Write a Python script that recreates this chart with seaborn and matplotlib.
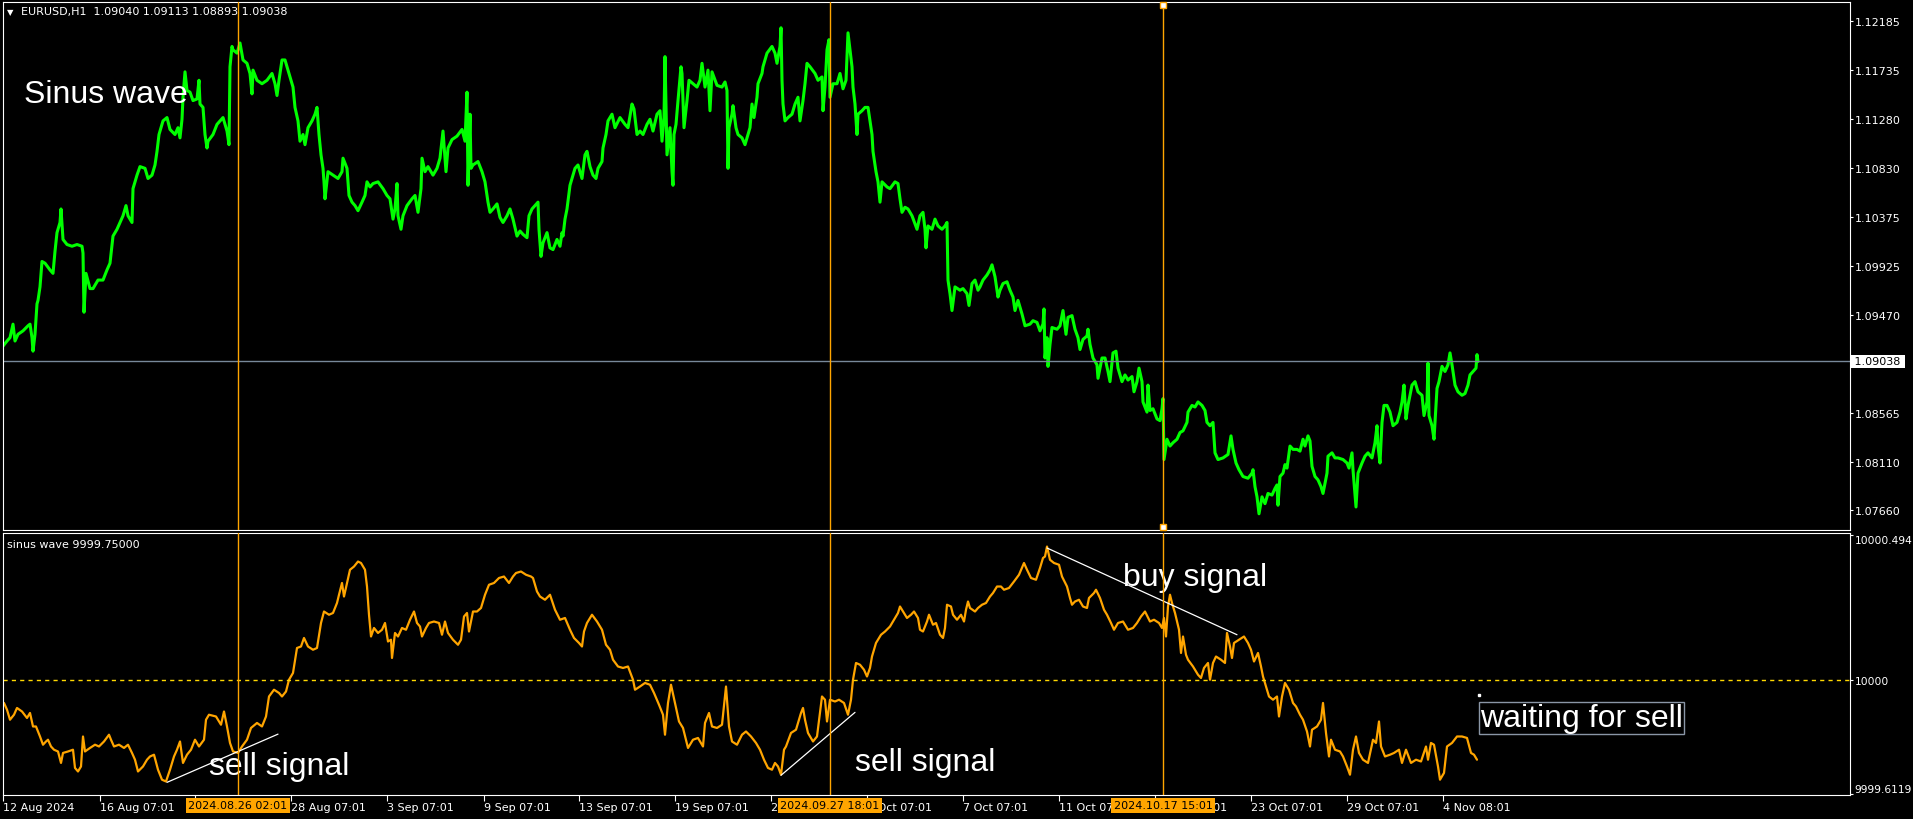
import matplotlib
matplotlib.use("Agg")
import matplotlib.pyplot as plt
import matplotlib.transforms as mtransforms
import seaborn as sns

# =========================
# DATA (EURUSD H1; x = bar number from the left edge)
# =========================
price_bar = [
    3, 7, 10, 13, 15, 18, 23, 28, 30, 32,
    33, 35, 37, 38, 40, 42, 45, 50, 53, 55,
    57, 58, 60, 61, 63, 67, 72, 77, 82, 83,
    84, 86, 90, 93, 98, 103, 107, 110, 113, 117,
    120, 123, 126, 128, 132, 133, 137, 140, 145, 148,
    152, 155, 157, 159, 163, 167, 170, 175, 178, 180,
    182, 183, 185, 187, 190, 193, 197, 199, 200, 203,
    205, 207, 208, 213, 217, 220, 223, 227, 229, 230,
    232, 233, 237, 240, 243, 247, 250, 252, 253, 257,
    262, 267, 272, 275, 277, 279, 282, 285, 287, 290,
    293, 295, 298, 300, 303, 305, 308, 312, 315, 317,
    319, 321, 323, 324, 325, 328, 333, 338, 342, 343,
    347, 349, 352, 355, 358, 362, 365, 367, 370, 373,
    378, 383, 387, 390, 393, 395, 397, 398, 401, 403,
    407, 412, 415, 418, 421, 422, 425, 428, 433, 437,
    440, 443, 446, 448, 452, 457, 462, 465, 467, 468,
    470, 471, 473, 478, 482, 485, 488,
    490, 493, 497, 500, 503, 507, 510, 513, 517, 520,
    523, 527, 529, 532, 535, 538, 539, 541, 543, 547,
    550, 553, 557, 560, 562, 563, 565, 567, 570, 572,
    575, 578, 582, 585, 587, 590, 593, 596, 598, 602,
    603, 606, 608, 612, 615, 620, 625, 628, 632, 634,
    637, 640, 643, 647, 650, 653, 657, 660, 662, 664,
    665, 667, 670, 672, 673, 674, 676, 678, 681, 682,
    684, 687, 689, 693, 697, 700, 702, 705, 708, 710,
    712, 717, 722, 725, 727, 728, 729, 732, 733, 736,
    738, 742, 745, 748, 750, 752, 754, 757, 758, 762,
    763, 767, 772, 775, 777, 780, 781, 782, 783, 785,
    788, 792, 795, 798, 800, 803, 805, 807, 810, 815,
    818, 822, 823, 825, 827, 829, 830, 833, 837, 840,
    843, 846, 848, 850, 852, 853, 855, 857, 858, 862,
    865, 868, 870, 872, 873, 876, 878, 880, 882, 887,
    890, 895, 898, 900, 902, 905, 908, 912, 917, 920,
    923, 925, 926, 928, 932, 935, 938, 942, 945, 947,
    948, 950, 952, 955, 960, 963, 967, 969, 972, 975,
    978,
    980, 983, 987, 990, 992, 995, 998, 1000, 1003, 1007,
    1010, 1013, 1015, 1018, 1022, 1025, 1030, 1033, 1037, 1040,
    1043, 1044, 1045, 1047, 1048, 1050, 1052, 1057, 1060, 1063,
    1066, 1068, 1072, 1075, 1078, 1080, 1083, 1087, 1088, 1090,
    1093, 1097, 1098, 1102, 1105, 1108, 1110, 1113, 1116, 1118,
    1122, 1125, 1128, 1132, 1134, 1137, 1139, 1142, 1143, 1147,
    1148, 1150, 1153, 1157, 1160, 1162, 1163, 1164, 1167, 1170,
    1173, 1177, 1180, 1183, 1187, 1188, 1192, 1195, 1198, 1202,
    1205, 1207, 1210, 1213, 1215, 1218, 1223, 1228, 1231, 1233,
    1236, 1239, 1243, 1248, 1252, 1253, 1255, 1257, 1259, 1262,
    1265, 1268, 1272, 1275, 1277, 1278, 1280, 1283, 1285, 1287,
    1290, 1293, 1297, 1300, 1303, 1305, 1308, 1310, 1312, 1315,
    1318, 1321, 1323, 1327, 1328, 1332, 1335, 1338, 1343, 1347,
    1349, 1352, 1353, 1356, 1358, 1362, 1365, 1368, 1372, 1373,
    1375, 1377, 1378, 1380, 1382, 1384, 1387, 1390, 1393, 1397,
    1400, 1402, 1404, 1406, 1408, 1412, 1415, 1418, 1422, 1424,
    1427, 1428, 1429, 1432, 1434, 1437, 1439, 1442, 1445, 1448,
    1450, 1452, 1453, 1455, 1458, 1462, 1465, 1468, 1470, 1473,
    1476, 1477, 1478,
]
price_close = [
    1.09180, 1.09227, 1.09258, 1.09383, 1.09227, 1.09289, 1.09321, 1.09368, 1.09383, 1.09258,
    1.09133, 1.09289, 1.09571, 1.09603, 1.09728, 1.09963, 1.09947, 1.09885, 1.09853, 1.10057,
    1.10230, 1.10261, 1.10324, 1.10449, 1.10167, 1.10120, 1.10104, 1.10120, 1.10104, 1.10041,
    1.09493, 1.09853, 1.09712, 1.09712, 1.09791, 1.09791, 1.09885, 1.09947, 1.10198, 1.10261,
    1.10324, 1.10386, 1.10480, 1.10386, 1.10324, 1.10637, 1.10762, 1.10841, 1.10825, 1.10731,
    1.10762, 1.10856, 1.10982, 1.11138, 1.11264, 1.11295, 1.11185, 1.11138, 1.11201, 1.11107,
    1.11279, 1.11483, 1.11718, 1.11546, 1.11530, 1.11452, 1.11467, 1.11640, 1.11420, 1.11389,
    1.11138, 1.11013, 1.11076, 1.11138, 1.11232, 1.11264, 1.11295, 1.11170, 1.11044, 1.11765,
    1.11953, 1.11922, 1.11891, 1.11985, 1.11828, 1.11797, 1.11703, 1.11514, 1.11734, 1.11640,
    1.11608, 1.11640, 1.11703, 1.11608, 1.11499, 1.11640, 1.11828, 1.11828, 1.11765, 1.11671,
    1.11577, 1.11389, 1.11264, 1.11076, 1.11138, 1.11044, 1.11201, 1.11264, 1.11326, 1.11389,
    1.11138, 1.10950, 1.10825, 1.10700, 1.10543, 1.10794, 1.10762, 1.10731, 1.10794, 1.10919,
    1.10825, 1.10574, 1.10512, 1.10480, 1.10433, 1.10512, 1.10574, 1.10700, 1.10653, 1.10684,
    1.10700, 1.10637, 1.10574, 1.10543, 1.10355, 1.10449, 1.10684, 1.10386, 1.10261, 1.10386,
    1.10480, 1.10543, 1.10574, 1.10418, 1.10637, 1.10919, 1.10794, 1.10841, 1.10762, 1.10825,
    1.10919, 1.11170, 1.10794, 1.11013, 1.11091, 1.11123, 1.11185, 1.11076, 1.11530, 1.10668,
    1.11326, 1.10825, 1.10856, 1.10888, 1.10794, 1.10700, 1.10512,
    1.10418, 1.10449, 1.10496, 1.10371, 1.10324, 1.10386, 1.10449, 1.10355, 1.10198, 1.10245,
    1.10214, 1.10183, 1.10386, 1.10449, 1.10480, 1.10512, 1.10261, 1.10010, 1.10136, 1.10230,
    1.10089, 1.10073, 1.10167, 1.10104, 1.10230, 1.10198, 1.10355, 1.10449, 1.10668, 1.10731,
    1.10825, 1.10856, 1.10731, 1.10950, 1.10982, 1.10841, 1.10762, 1.10731, 1.10825, 1.10888,
    1.11013, 1.11138, 1.11264, 1.11326, 1.11201, 1.11295, 1.11232, 1.11201, 1.11420, 1.11373,
    1.11138, 1.11170, 1.11138, 1.11232, 1.11279, 1.11170, 1.11326, 1.11358, 1.11076, 1.11295,
    1.11859, 1.10950, 1.11201, 1.10794, 1.10668, 1.11138, 1.11232, 1.11452, 1.11765, 1.11703,
    1.11201, 1.11452, 1.11640, 1.11608, 1.11577, 1.11640, 1.11797, 1.11577, 1.11734, 1.11358,
    1.11718, 1.11593, 1.11577, 1.11624, 1.11546, 1.10825, 1.11201, 1.11326, 1.11405, 1.11201,
    1.11138, 1.11107, 1.11044, 1.11138, 1.11201, 1.11420, 1.11295, 1.11483, 1.11608, 1.11703,
    1.11765, 1.11891, 1.11953, 1.11891, 1.11797, 1.11953, 1.12126, 1.11640, 1.11420, 1.11264,
    1.11295, 1.11326, 1.11420, 1.11483, 1.11264, 1.11452, 1.11608, 1.11797, 1.11765, 1.11703,
    1.11640, 1.11671, 1.11358, 1.11577, 1.11922, 1.12016, 1.11483, 1.11608, 1.11608, 1.11703,
    1.11561, 1.11640, 1.12079, 1.11922, 1.11765, 1.11577, 1.11420, 1.11138, 1.11326, 1.11358,
    1.11389, 1.11389, 1.11264, 1.11138, 1.10982, 1.10794, 1.10700, 1.10512, 1.10700, 1.10653,
    1.10637, 1.10700, 1.10684, 1.10543, 1.10418, 1.10465, 1.10449, 1.10386, 1.10261, 1.10386,
    1.10418, 1.10261, 1.10089, 1.10292, 1.10261, 1.10355, 1.10292, 1.10261, 1.10292, 1.10324,
    1.09791, 1.09665, 1.09509, 1.09728, 1.09697, 1.09712, 1.09665, 1.09556, 1.09759, 1.09791,
    1.09697,
    1.09728, 1.09791, 1.09838, 1.09885, 1.09932, 1.09822, 1.09634, 1.09697, 1.09759, 1.09775,
    1.09697, 1.09634, 1.09509, 1.09603, 1.09477, 1.09368, 1.09383, 1.09415, 1.09399, 1.09321,
    1.09383, 1.09524, 1.09070, 1.09258, 1.08992, 1.09195, 1.09352, 1.09336, 1.09368, 1.09509,
    1.09289, 1.09446, 1.09462, 1.09336, 1.09258, 1.09148, 1.09242, 1.09274, 1.09336, 1.09195,
    1.09070, 1.09007, 1.08882, 1.09070, 1.09070, 1.08945, 1.08851, 1.09117, 1.09133, 1.08976,
    1.08851, 1.08913, 1.08866, 1.08898, 1.08757, 1.08851, 1.08976, 1.08851, 1.08663, 1.08569,
    1.08819, 1.08584, 1.08600, 1.08506, 1.08490, 1.08600, 1.08694, 1.08130, 1.08318, 1.08255,
    1.08286, 1.08318, 1.08380, 1.08396, 1.08474, 1.08569, 1.08631, 1.08616, 1.08663, 1.08631,
    1.08584, 1.08474, 1.08443, 1.08474, 1.08192, 1.08130, 1.08145, 1.08177, 1.08349, 1.08224,
    1.08098, 1.08036, 1.07973, 1.07957, 1.08004, 1.08036, 1.07879, 1.07785, 1.07628, 1.07785,
    1.07722, 1.07816, 1.07801, 1.07863, 1.07895, 1.07707, 1.07973, 1.08004, 1.08083, 1.08051,
    1.08255, 1.08224, 1.08224, 1.08208, 1.08318, 1.08255, 1.08349, 1.08302, 1.08067, 1.07973,
    1.07942, 1.07879, 1.07816, 1.08004, 1.08161, 1.08192, 1.08145, 1.08145, 1.08130, 1.08098,
    1.08051, 1.08192, 1.08036, 1.07691, 1.08004, 1.08098, 1.08161, 1.08192, 1.08145, 1.08192,
    1.08286, 1.08443, 1.08255, 1.08098, 1.08474, 1.08631, 1.08631, 1.08569, 1.08443, 1.08474,
    1.08569, 1.08663, 1.08819, 1.08506, 1.08631, 1.08819, 1.08851, 1.08757, 1.08725, 1.08537,
    1.08663, 1.09023, 1.08537, 1.08443, 1.08318, 1.08788, 1.08851, 1.08992, 1.08945, 1.09007,
    1.09117, 1.09007, 1.08945, 1.08819, 1.08757, 1.08725, 1.08741, 1.08819, 1.08913, 1.08945,
    1.08976, 1.09101, 1.09038,
]

# sinus wave indicator
wave_bar = [
    4, 7, 10, 14, 17, 22, 27, 30, 33, 36,
    40, 43, 46, 48, 51, 54, 58, 61, 63, 68,
    73, 75, 78, 81, 83, 85, 90, 95, 99, 104,
    109, 111, 114, 119, 124, 128, 132, 135, 138, 143,
    147, 150, 154, 158, 162, 166, 170, 174, 177, 180,
    183, 187, 191, 195, 199, 204, 206, 209, 216, 221,
    224, 227, 230, 233, 238, 242, 247, 251, 257, 262,
    266, 269, 274, 279, 282, 286, 289, 293, 297, 301,
    304, 308, 313, 317, 321, 324, 329, 333, 337, 339,
    342, 344, 347, 350, 354, 358, 361, 365, 367, 369,
    371, 374, 378, 382, 385, 388, 391, 392, 395, 398,
    402, 406, 410, 414, 417, 420, 422, 426, 429, 434,
    439, 442, 445, 448, 453, 458, 461, 464, 467, 469,
    473, 477, 481, 485, 489, 494, 499, 504, 509, 513,
    516, 521, 526, 531, 533, 537, 540, 545, 550, 555,
    560, 565, 570, 574, 579, 582, 584, 587, 592, 597,
    602, 606, 610, 613, 618, 623, 628, 633, 635, 640,
    645, 650, 654, 659, 663, 665, 668, 671, 675, 679,
    683, 688, 693, 698, 703, 705, 709, 712, 717, 722,
    726, 729, 732, 737, 742, 746, 751, 756, 760,
    764, 768, 772, 775, 778, 781, 784, 786, 791, 796,
    798, 801, 803, 805, 808, 813, 817, 820, 822, 825,
    827, 830, 835, 839, 844, 848, 851, 853, 856, 860,
    864, 867, 870, 872, 876, 881, 885, 890, 894, 898,
    900, 904, 907, 911, 914, 918, 920, 923, 927, 929,
    933, 936, 940, 943, 945, 947, 951, 953, 957, 961,
    964, 966, 968, 970, 975, 978, 982, 986, 990, 993,
    997, 1001, 1004, 1009, 1014, 1019, 1024, 1027, 1031, 1036,
    1040, 1043, 1045, 1047, 1050, 1054, 1059, 1062, 1067, 1070,
    1072, 1075, 1079, 1083, 1087, 1089, 1094, 1096, 1100, 1104,
    1107, 1111, 1114, 1118, 1123, 1128, 1133, 1137, 1141, 1145,
    1150, 1154, 1159, 1162, 1164, 1166, 1168, 1170, 1172, 1175,
    1179, 1181, 1183, 1186, 1188, 1193, 1198, 1201, 1204, 1208,
    1210, 1213, 1216, 1221, 1225, 1227, 1230, 1232, 1234, 1239,
    1244, 1248, 1251, 1254, 1258, 1261, 1263, 1266, 1269, 1273,
    1277, 1279, 1282, 1285, 1289, 1293, 1296, 1300, 1303, 1307,
    1310, 1312, 1317, 1321, 1323, 1326, 1329, 1331, 1335, 1340,
    1343, 1347, 1350, 1353, 1356, 1359, 1363, 1368, 1373, 1376,
    1379, 1381, 1385, 1390, 1394, 1399, 1402, 1406, 1411, 1416,
    1421, 1426, 1428, 1431, 1434, 1438, 1440, 1444, 1447, 1452,
    1457, 1462, 1467, 1471, 1474, 1477,
]
wave_value = [
    9999.922, 9999.899, 9999.865, 9999.882, 9999.905, 9999.893, 9999.871, 9999.888, 9999.842, 9999.842,
    9999.808, 9999.780, 9999.791, 9999.797, 9999.774, 9999.763, 9999.757, 9999.718, 9999.752, 9999.757,
    9999.763, 9999.701, 9999.689, 9999.706, 9999.808, 9999.757, 9999.769, 9999.780, 9999.774, 9999.791,
    9999.814, 9999.797, 9999.774, 9999.780, 9999.769, 9999.780, 9999.752, 9999.729, 9999.689, 9999.706,
    9999.729, 9999.740, 9999.746, 9999.695, 9999.661, 9999.655, 9999.695, 9999.740, 9999.763, 9999.791,
    9999.718, 9999.746, 9999.763, 9999.797, 9999.774, 9999.797, 9999.865, 9999.882, 9999.876, 9999.848,
    9999.893, 9999.842, 9999.786, 9999.757, 9999.752, 9999.774, 9999.797, 9999.837, 9999.854, 9999.842,
    9999.876, 9999.944, 9999.967, 9999.956, 9999.944, 9999.961, 10000.001, 10000.024, 10000.109, 10000.114,
    10000.143, 10000.114, 10000.103, 10000.109, 10000.194, 10000.233, 10000.222, 10000.228, 10000.262, 10000.290,
    10000.330, 10000.284, 10000.330, 10000.375, 10000.386, 10000.403, 10000.398, 10000.375, 10000.318, 10000.222,
    10000.148, 10000.177, 10000.160, 10000.171, 10000.194, 10000.131, 10000.137, 10000.075, 10000.160, 10000.148,
    10000.177, 10000.171, 10000.205, 10000.233, 10000.194, 10000.182, 10000.148, 10000.177, 10000.194, 10000.199,
    10000.194, 10000.154, 10000.199, 10000.160, 10000.137, 10000.120, 10000.137, 10000.216, 10000.228, 10000.165,
    10000.233, 10000.233, 10000.245, 10000.290, 10000.324, 10000.330, 10000.347, 10000.352, 10000.330, 10000.352,
    10000.364, 10000.369, 10000.358, 10000.352, 10000.347, 10000.301, 10000.284, 10000.273, 10000.290, 10000.239,
    10000.205, 10000.211, 10000.171, 10000.143, 10000.126, 10000.114, 10000.165, 10000.194, 10000.222, 10000.199,
    10000.171, 10000.120, 10000.103, 10000.069, 10000.046, 10000.041, 10000.046, 10000.001, 9999.967, 9999.978,
    9999.990, 9999.984, 9999.956, 9999.916, 9999.882, 9999.814, 9999.922, 9999.984, 9999.922, 9999.859,
    9999.837, 9999.769, 9999.797, 9999.803, 9999.774, 9999.854, 9999.888, 9999.842, 9999.837, 9999.848,
    9999.978, 9999.842, 9999.791, 9999.780, 9999.814, 9999.825, 9999.808, 9999.786, 9999.763,
    9999.729, 9999.701, 9999.695, 9999.718, 9999.706, 9999.678, 9999.763, 9999.774, 9999.820, 9999.831,
    9999.854, 9999.888, 9999.905, 9999.865, 9999.820, 9999.791, 9999.808, 9999.888, 9999.944, 9999.933,
    9999.859, 9999.933, 9999.927, 9999.933, 9999.922, 9999.882, 9999.933, 10000.001, 10000.058, 10000.052,
    10000.035, 10000.012, 10000.041, 10000.080, 10000.126, 10000.154, 10000.165, 10000.182, 10000.205, 10000.228,
    10000.250, 10000.228, 10000.211, 10000.222, 10000.233, 10000.211, 10000.171, 10000.165, 10000.199, 10000.222,
    10000.188, 10000.194, 10000.154, 10000.143, 10000.177, 10000.256, 10000.250, 10000.222, 10000.205, 10000.222,
    10000.199, 10000.239, 10000.267, 10000.245, 10000.233, 10000.245, 10000.256, 10000.262, 10000.284, 10000.296,
    10000.318, 10000.318, 10000.307, 10000.313, 10000.335, 10000.358, 10000.398, 10000.375, 10000.347, 10000.341,
    10000.381, 10000.415, 10000.420, 10000.454, 10000.409, 10000.398, 10000.392, 10000.352, 10000.318, 10000.279,
    10000.256, 10000.267, 10000.273, 10000.250, 10000.245, 10000.279, 10000.296, 10000.307, 10000.279, 10000.239,
    10000.222, 10000.194, 10000.171, 10000.194, 10000.199, 10000.171, 10000.177, 10000.194, 10000.216, 10000.233,
    10000.199, 10000.205, 10000.194, 10000.177, 10000.211, 10000.148, 10000.250, 10000.290, 10000.262, 10000.228,
    10000.171, 10000.092, 10000.148, 10000.086, 10000.069, 10000.046, 10000.018, 10000.007, 10000.041, 10000.058,
    10000.001, 10000.058, 10000.080, 10000.069, 10000.058, 10000.160, 10000.114, 10000.075, 10000.126, 10000.137,
    10000.148, 10000.126, 10000.103, 10000.063, 10000.092, 10000.046, 10000.012, 9999.978, 9999.944, 9999.933,
    9999.944, 9999.876, 9999.944, 9999.990, 9999.967, 9999.922, 9999.910, 9999.882, 9999.865, 9999.825,
    9999.774, 9999.831, 9999.842, 9999.865, 9999.922, 9999.820, 9999.740, 9999.797, 9999.763, 9999.757,
    9999.740, 9999.706, 9999.678, 9999.763, 9999.808, 9999.752, 9999.729, 9999.718, 9999.797, 9999.786,
    9999.859, 9999.774, 9999.740, 9999.746, 9999.752, 9999.763, 9999.718, 9999.763, 9999.718, 9999.729,
    9999.723, 9999.774, 9999.729, 9999.786, 9999.780, 9999.706, 9999.661, 9999.684, 9999.774, 9999.786,
    9999.808, 9999.808, 9999.803, 9999.752, 9999.746, 9999.729,
]

# hand drawn trend lines on the indicator: (bar, value) pairs
sell_line_1 = ([167, 278], [9999.652, 9999.816])
sell_line_2 = ([781, 855], [9999.676, 9999.890])
buy_line = ([1047, 1237], [10000.449, 10000.154])

# price scale and indicator scale labels
price_ticks = [1.12185, 1.11735, 1.11280, 1.10830, 1.10375, 1.09925, 1.09470, 1.08565, 1.08110, 1.07660]
price_labels = ["1.12185", "1.11735", "1.11280", "1.10830", "1.10375", "1.09925", "1.09470",
                "1.08565", "1.08110", "1.07660"]
bid_price = 1.09038
wave_ticks = [9999.6119, 10000, 10000.494]
wave_labels = ["9999.6119", "10000", "10000.494"]
wave_level = 10000

# time scale
date_bars = [3, 100, 195, 291, 387, 484, 579, 675, 771, 867, 963, 1059, 1155, 1251, 1347, 1443]
date_labels = ["12 Aug 2024", "16 Aug 07:01", "22 Aug 07:01", "28 Aug 07:01", "3 Sep 07:01",
               "9 Sep 07:01", "13 Sep 07:01", "19 Sep 07:01", "25 Sep 07:01", "1 Oct 07:01",
               "7 Oct 07:01", "11 Oct 07:01", "17 Oct 07:01", "23 Oct 07:01", "29 Oct 07:01",
               "4 Nov 08:01"]

# vertical line objects
vline_bars = [238, 830, 1163]
vline_labels = ["2024.08.26 02:01", "2024.09.27 18:01", "2024.10.17 15:01"]

# =========================
# STYLE
# =========================
sns.set_theme(style="dark", rc={
    "axes.facecolor": "black",
    "figure.facecolor": "black",
    "axes.edgecolor": "white",
    "text.color": "white",
    "xtick.color": "white",
    "ytick.color": "white",
})
plt.rcParams["font.family"] = ["DejaVu Sans"]

GREEN = "#00ff00"
ORANGE = "#ffa500"
W, H = 1913, 820

fig = plt.figure(figsize=(W / 100, H / 100), dpi=100)
ax_top = fig.add_axes([2.5 / W, 1 - 531 / H, 1847.5 / W, 528.5 / H])
ax_bot = fig.add_axes([2.5 / W, 1 - 796 / H, 1847.5 / W, 262 / H])

for ax in (ax_top, ax_bot):
    ax.set_facecolor("black")
    ax.grid(False)
    for sp in ax.spines.values():
        sp.set_color("white")
        sp.set_linewidth(0.8)
    ax.set_xlim(2.5, 1850)
    ax.yaxis.tick_right()
    ax.tick_params(axis="y", right=True, left=False, length=2, width=0.8,
                   colors="white", labelsize=8, pad=1.5)

# =========================
# MAIN CHART
# =========================
sns.lineplot(x=price_bar, y=price_close, ax=ax_top, color=GREEN, linewidth=2.2,
             estimator=None, sort=False)
ax_top.set_ylim(1.07478, 1.12369)
ax_top.set_yticks(price_ticks)
ax_top.set_yticklabels(price_labels)
ax_top.set_xticks([])
ax_top.set_xlabel("")
ax_top.set_ylabel("")
ax_top.axhline(bid_price, color="#778899", linewidth=1)
ax_top.text(1.0006, bid_price, " 1.09038 ", transform=ax_top.get_yaxis_transform(),
            ha="left", va="center", fontsize=8, color="black",
            bbox=dict(boxstyle="square,pad=0.12", fc="white", ec="none"), clip_on=False)

ax_top.text(0.0025, 0.9815, "\u25bc", transform=ax_top.transAxes, fontsize=6,
            color="white", ha="left", va="center")
ax_top.text(0.0100, 0.9815, "EURUSD,H1  1.09040 1.09113 1.08893 1.09038",
            transform=ax_top.transAxes, fontsize=8, color="white", ha="left", va="center")
ax_top.text(24, 1.11439, "Sinus wave", fontsize=23, color="white",
            family=["Liberation Sans", "DejaVu Sans"], ha="left", va="baseline")

# =========================
# INDICATOR WINDOW
# =========================
sns.lineplot(x=wave_bar, y=wave_value, ax=ax_bot, color=ORANGE, linewidth=1.6,
             estimator=None, sort=False)
ax_bot.set_ylim(9999.609, 10000.500)
ax_bot.set_yticks(wave_ticks)
ax_bot.set_yticklabels(wave_labels, fontsize=7.7)
ylabs = ax_bot.get_yticklabels()
ylabs[0].set_va("bottom")
ylabs[2].set_va("top")
ax_bot.axhline(wave_level, color="#ffd700", linewidth=1, linestyle=(0, (3, 3)))
ax_bot.set_xlabel("")
ax_bot.set_ylabel("")

for xs, ys in (sell_line_1, sell_line_2, buy_line):
    sns.lineplot(x=xs, y=ys, ax=ax_bot, color="white", linewidth=0.9,
                 estimator=None, sort=False)

big = dict(fontsize=23, color="white", family=["Liberation Sans", "DejaVu Sans"],
           ha="left", va="baseline")
ax_bot.text(209, 9999.680, "sell signal", **big)
ax_bot.text(855, 9999.694, "sell signal", **big)
ax_bot.text(1123, 10000.323, "buy signal", **big)
ax_bot.text(1480, 9999.8436, "waiting for sell",
            bbox=dict(boxstyle="square,pad=0.04", fc="black", ec="#8a96a6", lw=1), **big)
ax_bot.plot([1479], [9999.949], marker="s", ms=2, color="white", ls="none")

ax_bot.text(0.0025, 0.958, "sinus wave 9999.75000", transform=ax_bot.transAxes,
            fontsize=8, color="white", ha="left", va="center")

# time axis
ax_bot.set_xticks(date_bars)
ax_bot.set_xticklabels(date_labels, ha="left")
ax_bot.tick_params(axis="x", bottom=True, length=4, width=0.8, colors="white",
                   labelsize=8, pad=1)

# =========================
# VERTICAL LINES
# =========================
for ax in (ax_top, ax_bot):
    for xb in vline_bars:
        ax.axvline(xb, color=ORANGE, linewidth=1, zorder=3)

xtrans = mtransforms.blended_transform_factory(ax_top.transData, ax_top.transAxes)
ax_top.plot([vline_bars[2], vline_bars[2]], [0.994, 0.005], transform=xtrans, ls="none",
            marker="s", ms=4, mfc="white", mec=ORANGE, mew=1, clip_on=False, zorder=5)

btrans = mtransforms.blended_transform_factory(ax_bot.transData, ax_bot.transAxes)
for xb, lab in zip(vline_bars, vline_labels):
    ax_bot.text(xb, -0.040, lab, transform=btrans, ha="center", va="center", fontsize=8,
                color="black", bbox=dict(boxstyle="square,pad=0.2", fc=ORANGE, ec="none"),
                clip_on=False, zorder=10)

fig.savefig("out.png", dpi=100, facecolor="black")
